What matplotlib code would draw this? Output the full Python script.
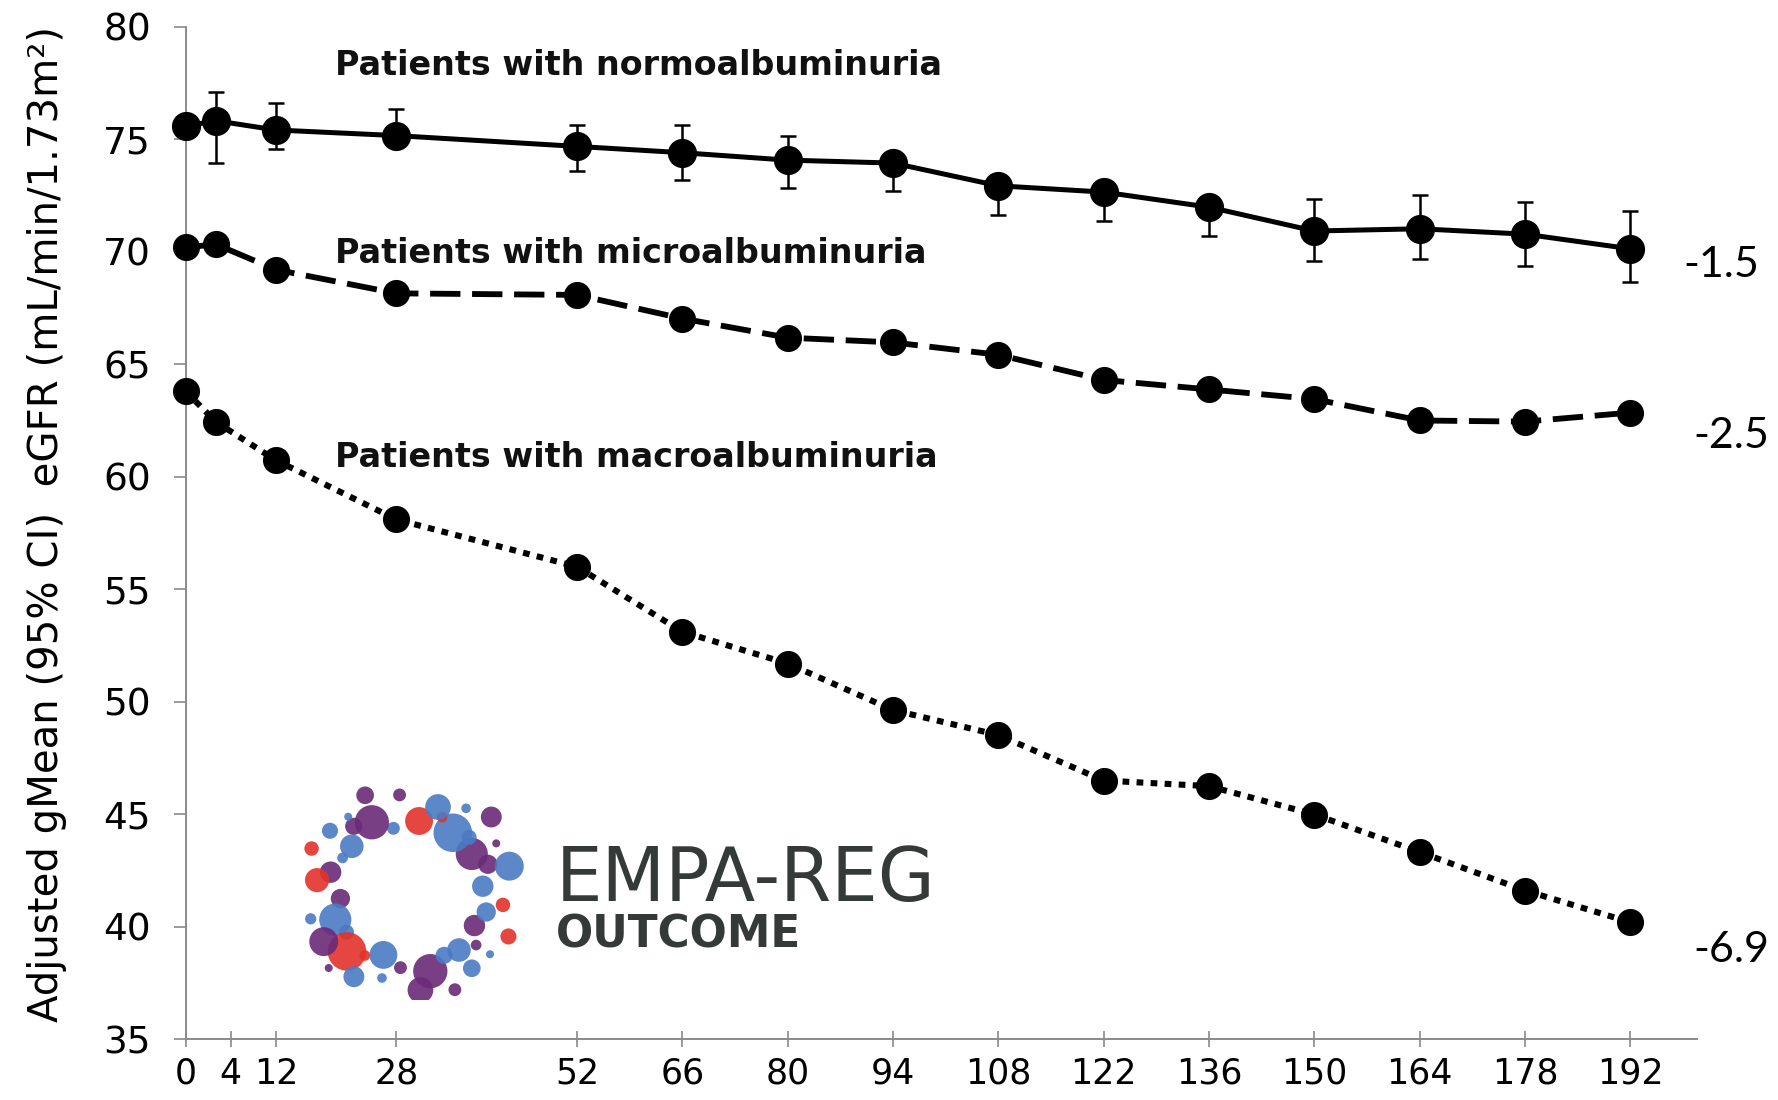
import numpy as np
import matplotlib
matplotlib.use("Agg")
import matplotlib.pyplot as plt
from matplotlib.patches import Circle

# ---------------- data ----------------
weeks = [0, 4, 12, 28, 52, 66, 80, 94, 108, 122, 136, 150, 164, 178, 192]
tick_labels = ["0", "4", "12", "28", "52", "66", "80", "94", "108", "122",
               "136", "150", "164", "178", "192"]

normo = [75.58, 75.82, 75.41, 75.16, 74.68, 74.40, 74.07, 73.94, 72.93, 72.65,
         71.98, 70.92, 71.02, 70.78, 70.13]
normo_lo = [75.58, 73.94, 74.57, 74.80, 73.60, 73.19, 72.81, 72.71, 71.63, 71.37,
            70.71, 69.60, 69.67, 69.37, 68.64]
normo_hi = [75.58, 77.12, 76.62, 76.35, 75.63, 75.63, 75.16, 74.40, 73.40, 73.10,
            72.40, 72.34, 72.50, 72.20, 71.79]

micro = [70.19, 70.33, 69.20, 68.15, 68.08, 67.03, 66.18, 65.97, 65.42, 64.30,
         63.88, 63.45, 62.50, 62.45, 62.85]

macro = [63.80, 62.44, 60.73, 58.10, 56.00, 53.11, 51.70, 49.63, 48.52, 46.50,
         46.25, 44.99, 43.32, 41.61, 40.20]

group_labels = ["Patients with normoalbuminuria",
                "Patients with microalbuminuria",
                "Patients with macroalbuminuria"]
change_labels = ["-1.5", "-2.5", "-6.9"]

# ---------------- figure ----------------
W, H = 1778, 1100
fig = plt.figure(figsize=(W / 100, H / 100), dpi=100)
ax = fig.add_axes([185.7 / W, 1 - 1039.3 / H, (1696.7 - 185.7) / W, (1039.3 - 26.7) / H])

black = "black"
ms = 20

lo_err = np.array(normo) - np.array(normo_lo)
hi_err = np.array(normo_hi) - np.array(normo)
ax.errorbar(weeks, normo, yerr=[lo_err, hi_err], fmt="-o", color=black,
            lw=3.6, ms=ms, capsize=6, elinewidth=1.8, capthick=1.8,
            clip_on=False, zorder=3)

ax.plot(weeks, micro, color=black, lw=4.2, dashes=(5.2, 2.0), marker="o",
        ms=ms - 1.5, clip_on=False, zorder=3)

ax.plot(weeks, macro, color=black, lw=4.4, dashes=(1.1, 1.2), marker="o",
        ms=ms - 1.5, clip_on=False, zorder=3)

ax.set_xlim(0, 200.8)
ax.set_ylim(35, 80)

xtick_pos = [0, 6, 12, 28, 52, 66, 80, 94, 108, 122, 136, 150, 164, 178, 192]
ax.set_xticks(xtick_pos)
ax.set_xticklabels(tick_labels)
ax.set_yticks(np.arange(35, 81, 5))

for s in ["top", "right"]:
    ax.spines[s].set_visible(False)
for s in ["left", "bottom"]:
    ax.spines[s].set_color("#8a8a8a")
    ax.spines[s].set_linewidth(1.4)

ax.tick_params(axis="y", direction="out", length=9, width=1.2, color="#8a8a8a",
               labelsize=27, pad=16, labelcolor="black")
ax.tick_params(axis="x", direction="inout", length=11, width=1.2, color="#8a8a8a",
               labelsize=25, pad=7, labelcolor="black")

# group labels
for lab, y in zip(group_labels, [77.85, 69.48, 60.42]):
    ax.text(19.84, y, lab, fontsize=24, fontweight="bold", ha="left",
            va="baseline", color="#111111")

# change labels on right
for lab, x, y in zip(change_labels, [199.0, 200.3, 200.3], [69.41, 61.83, 38.95]):
    ax.text(x, y, lab, fontsize=31, family=["Lato", "DejaVu Sans"], ha="left",
            va="center", clip_on=False)

# y label
fig.text(47 / W, 1 - 524 / H,
         "Adjusted gMean (95% CI)  eGFR (mL/min/1.73m\u00b2)",
         rotation=90, ha="center", va="center", fontsize=29)

# ---------------- logo ----------------
lax = fig.add_axes([290 / W, 1 - 1000 / H, 240 / W, 215 / H])
lax.set_xlim(-1.12, 1.12)
lax.set_ylim(-1.0, 1.0)
lax.set_aspect("equal")
lax.axis("off")
cols = ["#4a7bc3", "#6b2a78", "#4a7bc3", "#e3322a", "#4a7bc3", "#6b2a78",
        "#4a7bc3", "#6b2a78", "#e3322a", "#4a7bc3", "#6b2a78"]
sizes = [0.10, 0.06, 0.15, 0.08, 0.18, 0.05, 0.13, 0.09, 0.16, 0.07, 0.11, 0.05]
radial = [0.0, 0.12, -0.05, 0.07, -0.02, 0.15, 0.04, -0.07, 0.1, 0.17, -0.03]
for ring, (n, r0, off) in enumerate([(26, 0.68, 0.05), (22, 0.90, 0.2)]):
    for i in range(n):
        t = 2 * np.pi * i / n + off
        c, s_ = np.cos(t), np.sin(t)
        rr = r0 + radial[(i + ring * 3) % len(radial)] * 0.6
        px = np.sign(c) * abs(c) ** 0.8 * rr
        py = np.sign(s_) * abs(s_) ** 0.8 * rr * 0.95
        sz = sizes[(i * 7 + ring * 4) % len(sizes)] * (1.0 if ring == 0 else 0.75)
        lax.add_patch(Circle((px, py), sz,
                             color=cols[(i * 5 + ring * 2) % len(cols)],
                             alpha=0.9, lw=0))

ax.text(49.2, 41.14, "EMPA-REG", fontsize=53, color="#343a37", ha="left",
        va="baseline")
ax.text(49.2, 39.1, "OUTCOME", fontsize=31.5, fontweight="bold", color="#343a37",
        ha="left", va="baseline")

fig.savefig("out.png", dpi=100)
